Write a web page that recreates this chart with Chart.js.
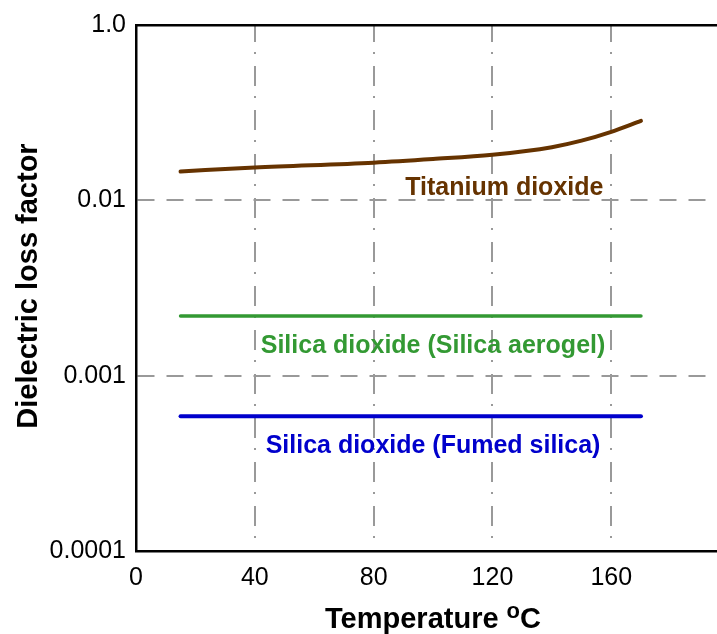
<!DOCTYPE html>
<html>
<head>
<meta charset="utf-8">
<script src="https://cdn.jsdelivr.net/npm/chart.js@4/dist/chart.umd.min.js"></script>
<style>
  html, body { margin: 0; padding: 0; background: #fff; }
  #wrap { width: 717px; height: 634px; position: relative; }
</style>
</head>
<body>
<div id="wrap"><canvas id="myChart"></canvas></div>
<script>
// temperatures (degC) and loss factors
const tempTitania = [15, 40, 80, 100, 120, 140, 150, 160, 170];
const lossTitania = [0.0146, 0.0154, 0.0164, 0.0172, 0.0182, 0.0201, 0.0219, 0.0246, 0.0284];
const tempAerogel = [15, 170];
const lossAerogel = [0.00219, 0.00219];
const tempFumed = [15, 170];
const lossFumed = [0.000586, 0.000586];

const xTicks = [0, 40, 80, 120, 160];
const yTicks = [0.0001, 0.001, 0.01, 0.1];
const yTickLabels = ['0.0001', '0.001', '0.01', '1.0'];

const seriesNames = ['Titanium dioxide', 'Silica dioxide (Silica aerogel)', 'Silica dioxide (Fumed silica)'];
const colors = ['#663300', '#339933', '#0000cc'];

// where the series names sit, in data units
const labelSpots = [
  { x: 124, y: 0.01175 },
  { x: 100, y: 0.00147 },
  { x: 100, y: 0.000399 }
];

const FONT = '"Liberation Sans", Arial, Helvetica, sans-serif';

function pts(xs, ys) {
  return xs.map((x, i) => ({ x: x, y: ys[i] }));
}

const textPlugin = {
  id: 'texts',
  afterDatasetsDraw(chart) {
    const c = chart.ctx;
    const xs = chart.scales.x, ys = chart.scales.y;
    c.save();
    // series names
    c.font = 'bold 25px ' + FONT;
    c.textAlign = 'center';
    c.textBaseline = 'middle';
    labelSpots.forEach((p, i) => {
      c.fillStyle = colors[i];
      c.fillText(seriesNames[i], xs.getPixelForValue(p.x), ys.getPixelForValue(p.y));
    });

    // x title with superscript o
    c.fillStyle = '#000';
    c.textBaseline = 'alphabetic';
    c.textAlign = 'left';
    const big = 'bold 29px ' + FONT, small = 'bold 22px ' + FONT;
    c.font = big;
    const w1 = c.measureText('Temperature ').width;
    const w3 = c.measureText('C').width;
    c.font = small;
    const w2 = c.measureText('o').width;
    let x0 = 433 - (w1 + w2 + w3) / 2;
    const base = 628;
    c.font = big; c.fillText('Temperature ', x0, base);
    c.font = small; c.fillText('o', x0 + w1, base - 10);
    c.font = big; c.fillText('C', x0 + w1 + w2, base);

    // y title
    c.translate(37, 286);
    c.rotate(-Math.PI / 2);
    c.textAlign = 'center';
    c.font = big;
    c.fillText('Dielectric loss factor', 0, 0);
    c.restore();
  }
};

const ctx = document.getElementById('myChart');
new Chart(ctx, {
  type: 'line',
  data: {
    datasets: [
      { label: seriesNames[0], data: pts(tempTitania, lossTitania), borderColor: colors[0], borderWidth: 4, tension: 0.4, cubicInterpolationMode: 'monotone' },
      { label: seriesNames[1], data: pts(tempAerogel, lossAerogel), borderColor: colors[1], borderWidth: 3.5 },
      { label: seriesNames[2], data: pts(tempFumed, lossFumed), borderColor: colors[2], borderWidth: 4 }
    ]
  },
  options: {
    responsive: true,
    maintainAspectRatio: false,
    animation: false,
    layout: { padding: 0 },
    elements: { point: { radius: 0 }, line: { borderCapStyle: 'round', fill: false } },
    plugins: { legend: { display: false }, tooltip: { enabled: false } },
    scales: {
      x: {
        type: 'linear',
        min: 0,
        max: 195.6,
        afterBuildTicks: (s) => { s.ticks = xTicks.map(v => ({ value: v })); },
        afterFit: (s) => { s.height = 83; },
        ticks: { color: '#000', padding: 12, font: { family: FONT, size: 25 }, maxRotation: 0 },
        grid: {
          drawTicks: false,
          lineWidth: 2,
          color: (c) => (c.tick && c.tick.value > 0 ? '#999999' : 'rgba(0,0,0,0)')
        },
        border: { color: '#000', width: 2.5, dash: [20, 10, 2, 12], dashOffset: 3 }
      },
      xTop: {
        type: 'linear',
        position: 'top',
        min: 0,
        max: 195.6,
        afterFit: (s) => { s.height = 23; },
        ticks: { display: false },
        grid: { display: false, drawTicks: false },
        border: { color: '#000', width: 2.5 }
      },
      y: {
        type: 'logarithmic',
        min: 0.0001,
        max: 0.1,
        afterBuildTicks: (s) => { s.ticks = yTicks.map(v => ({ value: v })); },
        afterFit: (s) => { s.width = 136; },
        ticks: {
          color: '#000',
          padding: 10,
          font: { family: FONT, size: 25 },
          callback: (v, i) => yTickLabels[i]
        },
        grid: {
          drawTicks: false,
          lineWidth: 2,
          color: (c) => (c.index > 0 && c.index < yTicks.length - 1 ? '#999999' : 'rgba(0,0,0,0)')
        },
        border: { color: '#000', width: 2.5, dash: [17, 12] }
      }
    }
  },
  plugins: [textPlugin]
});
</script>
</body>
</html>
